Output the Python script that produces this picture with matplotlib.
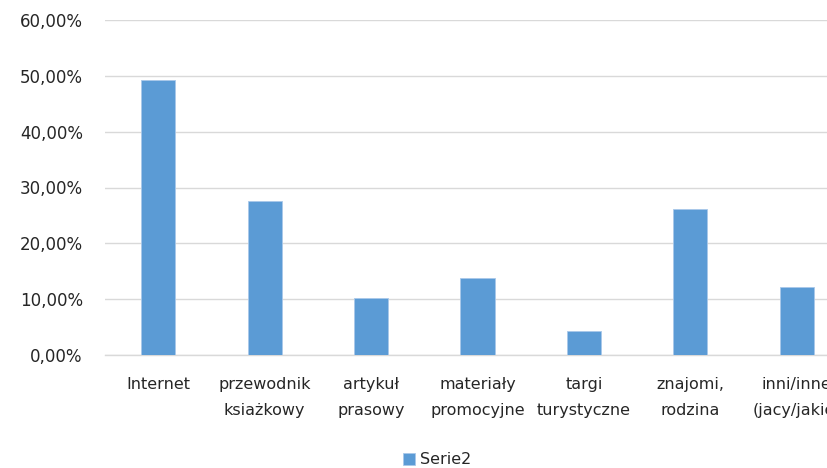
import numpy as np
import matplotlib.pyplot as plt
from matplotlib.ticker import FuncFormatter

categories = ["Internet", "przewodnik\nksiażkowy", "artykuł\nprasowy",
              "materiały\npromocyjne", "targi\nturystyczne", "znajomi,\nrodzina",
              "inni/inne\n(jacy/jakie)"]
values = [49.3, 27.6, 10.2, 13.8, 4.3, 26.1, 12.1]
series_name = "Serie2"

fig = plt.figure(figsize=(8.28, 4.68), dpi=100)
# plot area runs past the right edge, like the cropped original
ax = fig.add_axes([105 / 828, 113 / 468, 745 / 828, 335 / 468])

x = np.arange(len(categories))
ax.bar(x, values, width=0.32, color="#5b9bd5", edgecolor="#a9c8ea",
       linewidth=0.6, label=series_name, zorder=3)

ax.set_ylim(0, 60)
ax.set_xlim(-0.5, len(categories) - 0.5)
ax.set_yticks(np.arange(0, 61, 10))
ax.yaxis.set_major_formatter(FuncFormatter(lambda v, p: f"{v:.2f}%".replace(".", ",")))
ax.grid(axis="y", color="#d9d9d9", linewidth=1.0, zorder=0)

for s in ["top", "right", "left"]:
    ax.spines[s].set_visible(False)
ax.spines["bottom"].set_color("#d9d9d9")
ax.spines["bottom"].set_linewidth(1.0)

ax.set_xticks(x)
ax.set_xticklabels(categories, fontsize=11.5, color="#262626", linespacing=1.9)
ax.tick_params(axis="x", length=0, pad=16)
ax.tick_params(axis="y", length=0, pad=16, labelsize=12, labelcolor="#262626")

fig.legend(loc="center", bbox_to_anchor=(437 / 828, 1 - 460 / 468), frameon=False,
           fontsize=11.5, handlelength=0.8, handleheight=0.8, handletextpad=0.3,
           labelcolor="#262626")

fig.savefig("out.png", dpi=100)
